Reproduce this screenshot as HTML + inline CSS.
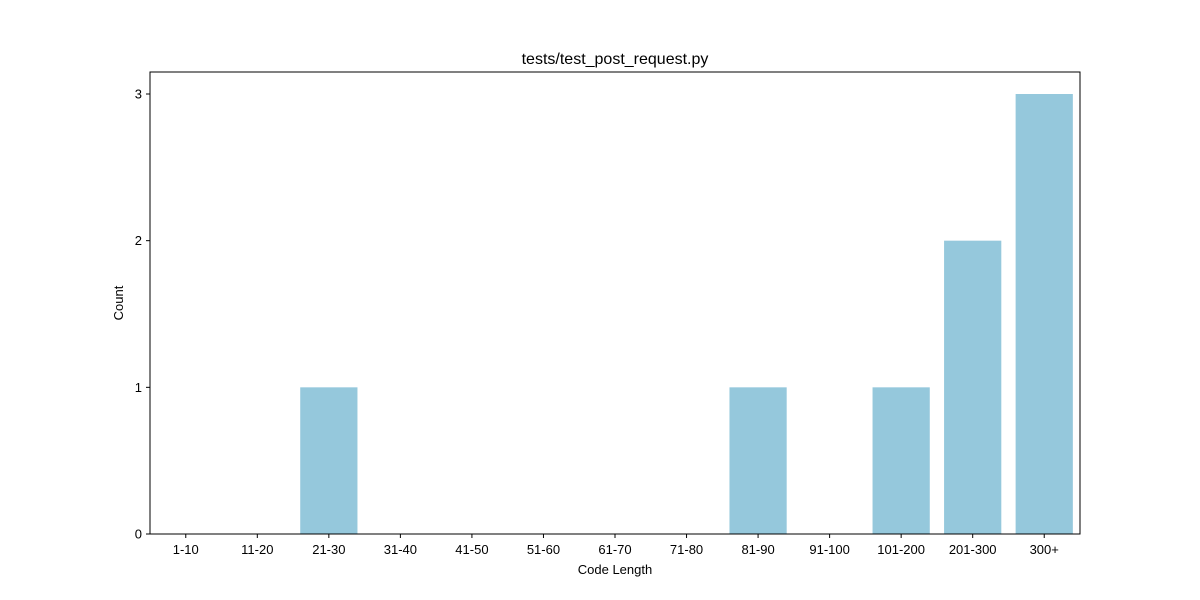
<!DOCTYPE html>
<html><head><meta charset="utf-8"><style>
body{margin:0;background:#fff;}
svg{display:block;font-family:"Liberation Sans","DejaVu Sans",sans-serif;}
</style></head><body>
<svg id="chart" width="1200" height="600">
<text x="615" y="64" text-anchor="middle" font-size="16">tests/test_post_request.py</text>
<text x="615" y="574" text-anchor="middle" font-size="13">Code Length</text>
<text transform="translate(123,303) rotate(-90)" text-anchor="middle" font-size="13">Count</text>
<g id="bars"></g><g id="axes"></g>
</svg>
<script>
const categories=["1-10","11-20","21-30","31-40","41-50","51-60","61-70","71-80","81-90","91-100","101-200","201-300","300+"];
const counts=[0,0,1,0,0,0,0,0,1,0,1,2,3];
const yTicks=[0,1,2,3];
const L=150,R=1080,T=72,B=534,yMax=3.15;
const ns="http://www.w3.org/2000/svg";
const step=(R-L)/categories.length;
const xC=i=>L+(i+0.5)*step;
const y=v=>B-(v/yMax)*(B-T);
const bars=document.getElementById('bars'),axes=document.getElementById('axes');
function mk(tag,attrs,parent){const e=document.createElementNS(ns,tag);for(const k in attrs)e.setAttribute(k,attrs[k]);parent.appendChild(e);return e;}
counts.forEach((v,i)=>{
 const r=mk('rect',{x:xC(i)-step*0.4,y:y(v),width:step*0.8,height:B-y(v),fill:'#95c8dc'},bars);
 
 
});
const fr=mk('rect',{x:L,y:T,width:R-L,height:B-T,fill:'none',stroke:'#000','stroke-width':1},axes);


categories.forEach((c,i)=>{
 mk('line',{x1:xC(i),x2:xC(i),y1:B,y2:B+4,stroke:'#000'},axes);
 const t=mk('text',{x:xC(i),y:B+20,'text-anchor':'middle','font-size':13},axes);
 t.textContent=c;
 
 
});
yTicks.forEach(v=>{
 mk('line',{x1:L-4,x2:L,y1:y(v),y2:y(v),stroke:'#000'},axes);
 const t=mk('text',{x:L-8,y:y(v)+4.5,'text-anchor':'end','font-size':13},axes);
 t.textContent=v;
 
 
});
</script>
</body></html>
